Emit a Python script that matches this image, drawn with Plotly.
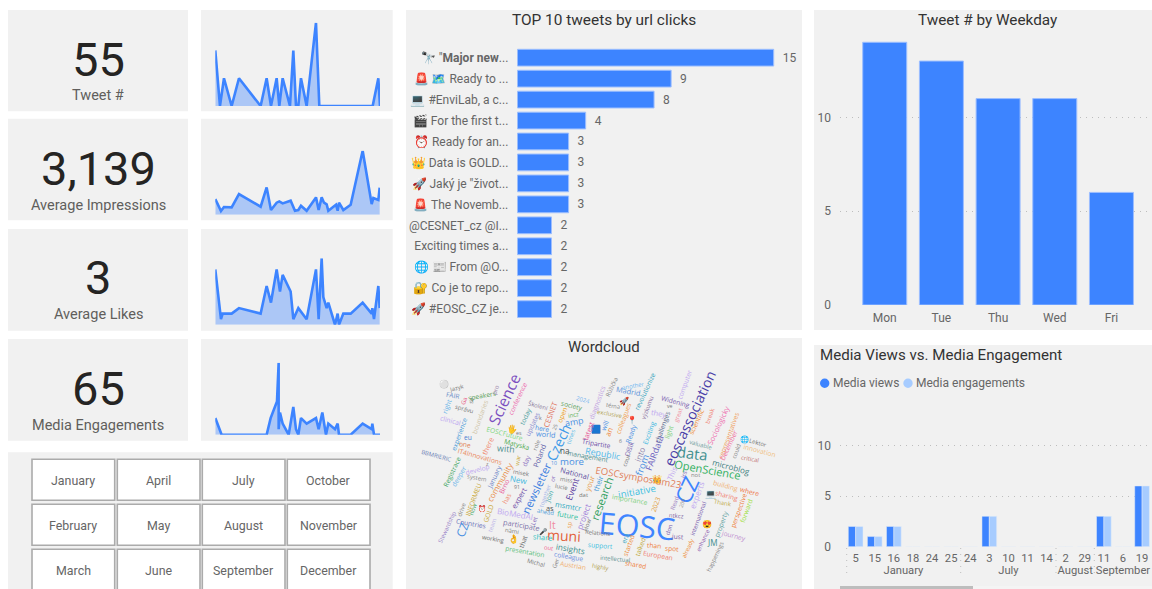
import plotly.graph_objects as go

W, H = 1152, 589
FONT = "Roboto"
BLUE = "#3D84FF"
LIGHT = "#A7CCFF"
PANEL = "#F1F1F1"
GREY = "#666666"
GRID = "#BDBDBD"
GRID_DASH = "1px,5px"

# ---------- data ----------
kpi_values = ["55", "3,139", "3", "65"]
kpi_labels = ["Tweet #", "Average Impressions", "Average Likes", "Media Engagements"]

tweet_x = [0, 14, 26, 49, 71, 136, 154, 167, 184, 192, 202, 224, 234, 242, 249, 257, 274, 302, 312, 472, 489, 494]
tweet_y = [2, 0, 1, 0, 1, 0, 1, 0, 1, 0, 1, 0, 2, 0, 0, 1, 0, 3, 0, 0, 1, 0]
impr_x = [0, 17, 26, 49, 71, 136, 154, 167, 184, 192, 202, 226, 239, 249, 257, 274, 302, 310, 319, 326, 334, 339, 362, 367, 371, 384, 406, 442, 469, 474, 489, 493]
impr_y = [5260, 1230, 2580, 2460, 6940, 2690, 9180, 1570, 4030, 4480, 3810, 4700, 1340, 1570, 3020, 1340, 5820, 1570, 5820, 4030, 3470, 1340, 3360, 1340, 4030, 1570, 3360, 21500, 3580, 5600, 4930, 9070]
likes_x = [0, 17, 22, 49, 71, 136, 154, 167, 184, 194, 202, 226, 234, 249, 274, 302, 310, 319, 324, 334, 339, 359, 367, 371, 384, 406, 442, 469, 471, 476, 489, 493]
likes_y = [10, 1, 2, 2, 3, 2, 7, 4, 10, 6, 9, 6, 1, 3, 1, 10, 1, 12, 5, 3, 4, 0, 2, 0, 2, 2, 4, 2, 3, 1, 7, 3]
media_x = [0, 19, 154, 166, 185, 190, 190, 194, 202, 220, 234, 242, 249, 257, 274, 302, 310, 321, 332, 339, 359, 367, 371, 406, 442, 469, 471, 476, 494]
media_y = [3, 0, 0, 3, 6, 13, 1, 4, 2, 0, 5, 1, 0, 3, 2, 3, 1, 4, 0, 2, 1, 2, 0, 0, 2, 1, 2, 0, 0]

tweet_labels = ["🔭 \"<b>Major new</b>...", "🚨 🗺️ Ready to ...", "💻 #EnviLab, a c...", "🎬 For the first t...",
                "⏰ Ready for an...", "👑 Data is GOLD...", "🚀 Jaký je \"život...", "🚨 The Novemb...",
                "@CESNET_cz @I...", "Exciting times a...", "🌐 📰 From @O...", "🔐 Co je to repo...", "🚀 #EOSC_CZ je..."]
tweet_clicks = [15, 9, 8, 4, 3, 3, 3, 3, 2, 2, 2, 2, 2]

weekdays = ["Mon", "Tue", "Thu", "Wed", "Fri"]
weekday_tweets = [14, 13, 11, 11, 6]

media_months = ["January"] * 6 + ["July"] * 5 + ["August"] * 2 + ["September"] * 3
media_days = ["5", "15", "16", "18", "24", "25", "3", "10", "11", "14", "24", "2", "29", "6", "11", "19"]
media_views = [2, 1, 2, 0, 0, 0, 3, 0, 0, 0, 0, 0, 0, 0, 3, 6]
media_engagements = [2, 1, 2, 0, 0, 0, 3, 0, 0, 0, 0, 0, 0, 0, 3, 6]

month_rows = [["January", "April", "July", "October"],
              ["February", "May", "August", "November"],
              ["March", "June", "September", "December"]]

# word, x, y (crop units), weight, angle, colour
words_left = [
    ("⚪",118,145,11,0,"#777777"),("🖐",320,282,11,0,"#777777"),("🟦",572,280,11,0,"#777777"),("⏰",230,520,9,0,"#777777"),("👌",325,612,12,0,"#777777"),("🎤",415,590,9,0,"#777777"),
    ("Jazyk",155,158,8,-15,"#777777"),("FAIR",145,182,9,10,"#6A8CC7"),("Ga",177,197,8,-70,"#E75480"),("se",198,197,8,-80,"#777777"),
    ("speakers",232,180,9,-10,"#5AA05A"),("pro",272,165,8,-70,"#9A85A8"),("right",125,213,9,-70,"#6BB5E8"),("správu",177,222,8,15,"#777777"),
    ("clinical",137,257,9,15,"#B9A3F0"),("boundaries",225,248,9,-70,"#D0C5A8"),("Science",298,192,21,-65,"#7A4FC0"),("conference",338,190,9,-65,"#EC6FB0"),
    ("experience",162,298,9,-70,"#4A9BD8"),("eu",190,308,9,0,"#4A7FD0"),("one",180,328,9,10,"#E08050"),("EOSCFuture",298,296,9,15,"#7ED67E"),
    ("es",343,293,7,0,"#777777"),("Matyska",337,328,9,15,"#4AA84A"),("today",362,245,9,-65,"#4F9F9F"),("updates",382,268,9,-65,"#8F8FD0"),
    ("Školení",400,212,8,15,"#8A7A9A"),("k",405,250,7,0,"#777777"),("CESNET",437,238,10,-70,"#E0705A"),("society",500,210,9,15,"#5AA05A"),
    ("2024",535,195,8,15,"#7CB8F0"),("diagnostics",577,203,9,-70,"#C0A0E0"),("open",470,240,9,-70,"#EDA020"),("incz",505,240,8,-10,"#5AB05A"),
    ("amp",507,262,12,-10,"#4A90E2"),("25",450,276,7,-70,"#777777"),("here",412,280,9,10,"#4A90E2"),("world",422,298,10,5,"#4A90E2"),
    ("times",497,305,8,-70,"#6BC0E8"),("latest",550,288,10,-70,"#E85A98"),("Czech",460,322,19,-65,"#3F9AE8"),("na",480,345,11,0,"#555555"),
    ("with",302,343,12,5,"#4F8F8F"),("there",247,332,10,-65,"#F08A70"),("IT4Innovations",225,365,9,15,"#E9875A"),("BBMRIERIC",95,362,8,15,"#6A7FB5"),
    ("Registrace",142,410,9,-65,"#4AAA6A"),("deeper",162,425,9,-60,"#6BB5E8"),("develop",218,402,9,-15,"#C0A8F0"),("system",215,430,8,10,"#888888"),
    ("z",247,388,7,0,"#777777"),("January",267,427,9,-65,"#7088C8"),("community",285,440,11,-60,"#E89050"),("Brno",298,455,9,-65,"#E85A98"),
    ("has",305,490,9,-60,"#F08A70"),("misek",350,413,8,10,"#777777"),("New",343,433,11,10,"#3FB8E0"),("91",337,457,7,0,"#777777"),
    ("war",340,376,8,-80,"#C9A83A"),("role",395,330,8,-70,"#8A8A8A"),("day",365,378,9,-70,"#8A70C0"),("Poland",402,362,10,-70,"#6060A8"),
    ("expert",342,490,10,-60,"#7050A8"),("newsletter",393,460,15,-65,"#3F7FE0"),("more",500,380,13,0,"#4A90E2"),("National",508,415,10,15,"#6050A0"),
    ("miss",485,436,8,10,"#777777"),("lucie",470,455,8,10,"#777777"),("or",445,430,8,-80,"#8A70C0"),("10",447,385,7,0,"#4A90E2"),
    ("Event",503,462,12,-70,"#5A40A0"),("dat",535,480,8,0,"#777777"),("your",555,445,10,-70,"#E8A050"),("their",580,445,10,-70,"#4A9BD8"),
    ("Join",433,485,9,-70,"#3FA8A8"),("together",420,482,8,-70,"#A8B8E8"),("msmtcr",490,513,10,10,"#30A8C0"),("future",487,540,10,10,"#30C0A0"),
    ("as",435,518,10,0,"#555555"),("ahead",422,530,8,10,"#4A9BD8"),("project",535,545,11,-70,"#A080D8"),("How",547,570,8,-70,"#777777"),
    ("Let",388,558,8,-70,"#8A70C0"),("sp",493,570,8,-80,"#EDA050"),("It",442,570,14,0,"#F08AA0"),("muni",478,600,19,3,"#E2603A"),
    ("participate",350,570,10,10,"#7A70A8"),("share",412,607,10,5,"#30C0C0"),("Countries",197,565,9,10,"#6A70B8"),("CZ",170,585,16,-70,"#4A90E2"),
    ("drive",170,525,8,-70,"#888888"),("INFORMEU",205,493,9,-70,"#C9A83A"),("now",205,522,8,-70,"#4AAA6A"),("GOLD",250,535,9,-70,"#C9A83A"),
    ("BioMedAI",330,535,11,10,"#C0A8F0"),("Stewardship",127,576,8,-65,"#9A85C8"),("team",262,570,8,-70,"#C0B8E8"),("working",265,612,8,10,"#666666"),
    ("nämi",320,588,8,10,"#777777"),("that",355,620,9,-70,"#666666"),("presentation",360,650,9,10,"#60C080"),("Michal",393,683,8,15,"#777777"),
    ("Ger",452,683,8,-70,"#888888"),("out",430,640,8,10,"#F06090"),("insights",497,640,11,10,"#3F8F8F"),("colleague",492,665,9,10,"#7090E0"),
    ("Austrian",505,692,9,10,"#F0B070"),("management",550,365,9,10,"#4F8F8F"),("research",590,490,15,-70,"#30A060"),
]
words_right = [
    ("🚀",72,195,11,0,"#777777"),("📍",95,253,11,0,"#777777"),("👑",170,430,11,0,"#777777"),("💻",330,478,12,0,"#777777"),("😍",320,565,11,0,"#777777"),("🌐",432,312,10,0,"#777777"),
    ("EOSC",110,570,41,5,"#3F85FF"),("EOSCsymposium23",115,428,13,10,"#E0805A"),("initiative",110,470,13,-10,"#40C0E0"),("importance",90,493,9,10,"#80D080"),
    ("2023",165,510,9,-70,"#E0A040"),("Republic",10,358,12,10,"#50B8E8"),("Tripartite",-12,325,9,10,"#7050A8"),("will",15,272,9,-70,"#4A90E2"),
    ("an",25,290,10,-70,"#EE8030"),("colleagues",70,250,9,-70,"#F0A050"),("6",60,318,7,0,"#777777"),("Ready",93,295,9,-70,"#4A90E2"),
    ("Olšík",88,340,9,-70,"#7060B0"),("cour",80,375,8,-70,"#777777"),("into",118,358,11,-70,"#8A80A8"),("from",125,390,13,-70,"#4A90E2"),
    ("FAIRdata",165,355,12,-70,"#6A5FC0"),("Exciting",148,293,9,-70,"#40B8E0"),("výzkumu",142,218,8,-70,"#8A70A0"),("revolutionize",135,170,9,-65,"#40A8C0"),
    ("Madrid",85,168,10,10,"#5A90D8"),("another",100,152,8,-10,"#70B8F0"),("Růžička",35,155,8,-65,"#888888"),("téma",40,213,8,10,"#888888"),
    ("exclusive",30,237,8,10,"#B0A050"),("they",175,235,10,10,"#C0A8F0"),("challenges",188,275,9,-70,"#5A6A90"),("light",208,290,9,-70,"#80D080"),
    ("ve",210,213,7,0,"#777777"),("Widening",225,198,9,15,"#7A60B0"),("computer",255,150,9,-70,"#C0A8F0"),("great",235,240,8,-70,"#F090A0"),
    ("eoscassociation",268,250,19,-65,"#4A3FA8"),("scientific",290,260,9,-65,"#EE9040"),("break",330,243,8,-70,"#F08070"),("Sociologicky",355,270,10,-65,"#EE70B0"),
    ("representatives",385,300,9,-70,"#F0A060"),("December",385,330,9,-65,"#F070A0"),("could",408,350,8,-70,"#888888"),("Lektor",475,323,8,15,"#777777"),
    ("innovation",478,347,9,15,"#F0C080"),("critical",450,372,8,10,"#C07070"),("valuable",303,330,8,15,"#70A0A0"),("data",278,355,20,7,"#3F8F8F"),
    ("microblog",393,395,11,15,"#3F8080"),("OpenScience",323,403,15,10,"#30B060"),("This",217,415,10,-65,"#C0A8F0"),("ics",252,420,8,-70,"#7A60B0"),
    ("not",285,420,8,0,"#888888"),("CZ",258,465,30,-65,"#3F85FF"),("experts",288,480,11,-70,"#C0A8F0"),("building",375,452,9,15,"#F0B070"),
    ("where",450,468,9,15,"#EE7040"),("sharing",380,482,9,15,"#F08070"),("Thank",368,505,8,10,"#C0A840"),("perspective",415,525,9,-70,"#EE8040"),
    ("forward",440,527,9,-70,"#A0E040"),("Read",225,505,8,-70,"#9A80C0"),("200",247,505,7,-70,"#888888"),("ntkcz",230,543,8,5,"#7A60A0"),
    ("international",295,552,8,-70,"#7A60B0"),("property",362,567,9,-70,"#60A0A0"),("journey",400,600,9,15,"#C090D0"),("JM",338,622,11,0,"#3F8F8F"),
    ("enhance",310,615,8,-65,"#9060B0"),("happenings",345,665,8,-65,"#888888"),("already",265,640,8,-65,"#EE9040"),("just",232,605,9,5,"#8060A8"),
    ("don",207,585,8,-70,"#7A60B0"),("spot",215,640,9,5,"#EE8040"),("than",162,632,9,5,"#EE8040"),("European",175,660,9,10,"#F08070"),
    ("talked",120,637,9,-70,"#C0A840"),("started",85,630,9,-70,"#EE9040"),("shared",105,688,9,10,"#EE8040"),("era",75,610,9,-70,"#40A8C0"),
    ("Relations",-6,595,8,5,"#777777"),("support",0,630,9,5,"#40C0E0"),("intellectual",45,672,8,5,"#609090"),("highly",0,695,8,10,"#B0A050"),
]

# ---------- helpers ----------
def px_x(v):
    return v / W

def px_y(v):
    return 1 - v / H

shapes, annos = [], []

def panel(x0, y0, x1, y1, color=PANEL, line=None):
    shapes.append(dict(type="rect", xref="paper", yref="paper", layer="below",
                       x0=px_x(x0), x1=px_x(x1), y0=px_y(y0), y1=px_y(y1),
                       fillcolor=color, line=dict(width=line[1], color=line[0]) if line else dict(width=0)))

def text(s, x, y, size, color=GREY, anchor="center", angle=0):
    annos.append(dict(text=s, xref="paper", yref="paper", x=px_x(x), y=px_y(y), xanchor=anchor, yanchor="middle",
                      showarrow=False, textangle=angle, font=dict(family=FONT, size=size, color=color)))

fig = go.Figure()

# ---------- panels ----------
card_rows = [(10, 111.3), (118.7, 220.3), (229, 330.7), (339, 440.7)]
for top, bottom in card_rows:
    panel(8, top, 188, bottom)
    panel(201, top, 392.7, bottom)
panel(8, 452.3, 392.7, 589)
panel(406, 10, 802, 330)
panel(406, 338, 802, 589)
panel(814, 10, 1152, 330)
panel(814, 345, 1152, 589)

# ---------- KPI cards ----------
kpi_num_y = [60, 168.5, 277.5, 388]
kpi_lab_y = [96, 205, 314.5, 425]
for value, label, ny, ly in zip(kpi_values, kpi_labels, kpi_num_y, kpi_lab_y):
    text(value, 98, ny, 47, "#252423")
    text(label, 98, ly, 14.5, "#605E5C")

# ---------- sparklines ----------
sparks = [
    (tweet_x, tweet_y, 22.7, 106),
    (impr_x, impr_y, 150.7, 214.7),
    (likes_x, likes_y, 258.3, 324.7),
    (media_x, media_y, 362.7, 434.7),
]
for i, (xs, ys, top, bottom) in enumerate(sparks):
    n = i + 1
    fig.add_trace(go.Scatter(x=xs, y=ys, mode="lines", fill="tozeroy", fillcolor="rgba(61,132,255,0.38)",
                             line=dict(color=BLUE, width=2.6), cliponaxis=False, hoverinfo="skip",
                             showlegend=False, xaxis=f"x{n}", yaxis=f"y{n}"))
    fig.layout[f"xaxis{n}"] = dict(domain=[px_x(215.3), px_x(380)], range=[0, 494], visible=False, anchor=f"y{n}", automargin=False)
    fig.layout[f"yaxis{n}"] = dict(domain=[px_y(bottom), px_y(top)], range=[0, max(ys)], visible=False, anchor=f"x{n}", automargin=False)

# ---------- top tweets ----------
fig.add_trace(go.Bar(x=tweet_clicks, y=tweet_labels, orientation="h", width=0.8,
                     marker=dict(color=BLUE, line=dict(color="#9CBEFF", width=1)),
                     text=["&nbsp;&nbsp;" + str(v) for v in tweet_clicks], textposition="outside", cliponaxis=False,
                     textfont=dict(family=FONT, size=12, color=GREY), showlegend=False, xaxis="x5", yaxis="y5"))
fig.layout.xaxis5 = dict(domain=[px_x(517.3), px_x(799)], range=[0, 16.48], visible=False, anchor="y5", automargin=False)
fig.layout.yaxis5 = dict(domain=[px_y(319.6), px_y(47.2)], autorange="reversed", anchor="x5", showline=False, showgrid=False,
                         ticks="", ticklabelstandoff=8, automargin=False, tickfont=dict(family=FONT + ", 'Noto Sans'", size=12, color=GREY))
text("TOP 10 tweets by url clicks", 604, 20, 15.4, "#333333")

# ---------- weekday ----------
fig.add_trace(go.Bar(x=weekdays, y=weekday_tweets, width=0.776, marker=dict(color=BLUE, line=dict(color="#9CBEFF", width=1)),
                     showlegend=False, xaxis="x6", yaxis="y6"))
fig.layout.xaxis6 = dict(domain=[px_x(840), px_x(1150)], range=[-0.789, 4.68], anchor="y6", showline=False, showgrid=False,
                         ticks="", ticklabelstandoff=4, automargin=False, tickfont=dict(family=FONT, size=12, color=GREY))
fig.layout.yaxis6 = dict(domain=[px_y(305), px_y(32.9)], range=[0, 14.5], tickvals=[0, 5, 10], anchor="x6", zeroline=False,
                         showgrid=True, gridcolor=GRID, griddash=GRID_DASH, gridwidth=1, ticks="", automargin=False,
                         ticklabelstandoff=8, tickfont=dict(family=FONT, size=12, color=GREY))
text("Tweet # by Weekday", 988, 20, 15.3, "#333333")

# ---------- media ----------
fig.add_trace(go.Bar(x=[media_months, media_days], y=media_views, marker=dict(color=BLUE), name="Media views",
                     showlegend=False, xaxis="x7", yaxis="y7"))
fig.add_trace(go.Bar(x=[media_months, media_days], y=media_engagements, marker=dict(color=LIGHT), name="Media engagements",
                     showlegend=False, xaxis="x7", yaxis="y7"))
fig.layout.xaxis7 = dict(domain=[px_x(840), px_x(1152)], range=[-0.82, 15.52], anchor="y7", type="multicategory", showgrid=False,
                         showline=False, ticks="", showdividers=False, tickangle=0, automargin=False, ticklabelstandoff=3,
                         tickfont=dict(family=FONT, size=11.2, color=GREY))
fig.layout.yaxis7 = dict(domain=[px_y(546.7), px_y(405)], range=[0, 14], tickvals=[0, 5, 10], anchor="x7", zeroline=False,
                         showgrid=True, gridcolor=GRID, griddash=GRID_DASH, gridwidth=1, ticks="", automargin=False,
                         ticklabelstandoff=8, tickfont=dict(family=FONT, size=12, color=GREY))
text("Media Views vs. Media Engagement", 818, 354.7, 15.1, "#333333", "left")
for x, color, label, tx in [(824.7, BLUE, "Media views", 830.5), (908, LIGHT, "Media engagements", 913.5)]:
    shapes.append(dict(type="circle", xref="paper", yref="paper", x0=px_x(x - 4.7), x1=px_x(x + 4.7),
                       y0=px_y(383.3 + 4.7), y1=px_y(383.3 - 4.7), fillcolor=color, line=dict(width=0)))
    text(label, tx, 383.3, 12, GREY, "left")
for x in [846.7, 960.7, 1056, 1094.3]:
    shapes.append(dict(type="line", xref="paper", yref="paper", x0=px_x(x), x1=px_x(x), y0=px_y(548), y1=px_y(578),
                       line=dict(color=GRID, width=1, dash=GRID_DASH)))
panel(973, 586, 1152, 589, "#F4F4F4")
panel(840, 586, 973, 589, "#BDBDBD")

# ---------- slicer ----------
col_x = [(32, 114.7), (117.3, 200), (202.3, 285), (287.3, 370)]
row_y = [(459.3, 500.3, 480), (504.3, 545.3, 525.3), (549.3, 591, 570.3)]
for row, (t, b, mid) in zip(month_rows, row_y):
    for month, (l, r) in zip(row, col_x):
        panel(l, t, r, b, "#FFFFFF", ("#ABABAB", 1.6))
        text(month, (l + r) / 2, mid, 12.4, GREY)

# ---------- wordcloud ----------
text("Wordcloud", 604, 347, 15, "#333333")
WORD_SCALE = 0.74
for ox, wl in [(405, words_left), (600, words_right)]:
    for w, zx, zy, size, ang, col in wl:
        annos.append(dict(text=w, xref="paper", yref="paper", x=px_x(ox + zx / 3), y=px_y(335 + zy / 3),
                          xanchor="center", yanchor="middle", showarrow=False, textangle=ang,
                          font=dict(family="Open Sans", size=size * WORD_SCALE, color=col)))

fig.update_layout(width=W, height=H, margin=dict(l=0, r=0, t=0, b=0, autoexpand=False), paper_bgcolor="#FFFFFF",
                  plot_bgcolor="rgba(0,0,0,0)", barmode="group", bargap=0.23, bargroupgap=0,
                  shapes=shapes, annotations=annos, font=dict(family=FONT), showlegend=False)

fig.write_html("out.html", config={"displayModeBar": False}, post_script="document.body.style.margin='0';")
